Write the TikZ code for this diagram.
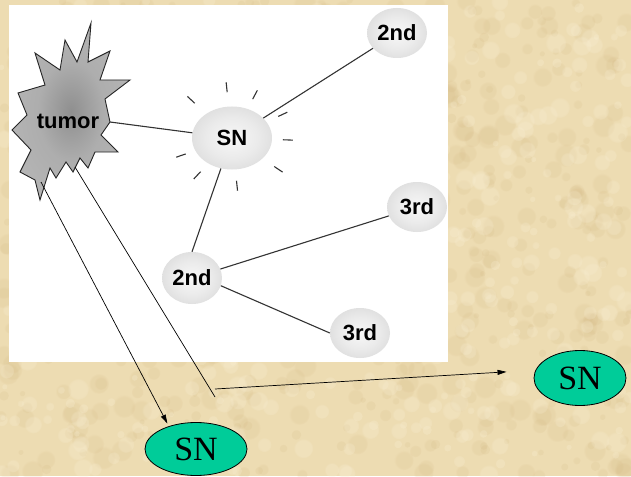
\documentclass[tikz,border=0pt]{standalone}
\usepackage{fontspec}
\setmainfont{Liberation Serif}
\newfontfamily\arialfont{Liberation Sans}
\usetikzlibrary{shapes.geometric,arrows.meta,fadings}

\definecolor{parchment}{RGB}{237,220,178}
\definecolor{parchdark}{RGB}{206,176,120}
\definecolor{parchlight}{RGB}{250,240,214}
\definecolor{snteal}{RGB}{0,204,153}
\definecolor{edgegray}{RGB}{51,51,51}

% soft gray bubbles and the tumor body
\pgfdeclareradialshading{bubble}{\pgfpoint{0bp}{0bp}}{color(0bp)=(white!97!black); color(16bp)=(white!92!black); color(50bp)=(white!77!black)}
\pgfdeclareradialshading{tumorshade}{\pgfpoint{0bp}{0bp}}{color(0bp)=(black!44); color(14bp)=(black!32); color(50bp)=(black!24)}

\tikzset{
  gnode/.style={ellipse, inner sep=0pt, shading=bubble, font=\arialfont\bfseries\fontsize{22}{26}\selectfont},
  snnode/.style={ellipse, draw=black, line width=0.8pt, fill=snteal, inner sep=0pt, font=\fontsize{34}{38}\selectfont},
  link/.style={draw=edgegray, line width=1.1pt},
  spread/.style={-{Triangle[length=9pt,width=5pt]}, line width=0.7pt},
  blot/.style={path fading=circle with fuzzy edge 20 percent}
}

\begin{document}
\begin{tikzpicture}[x=1pt,y=-1pt]
\useasboundingbox (0,0) rectangle (631,476);
\fill[parchment] (0,0) rectangle (631,476);
\pgfmathsetseed{11}
\foreach \i in {1,...,700}{
  \pgfmathsetmacro\bx{rnd*631}
  \pgfmathsetmacro\by{rnd*476}
  \pgfmathsetmacro\br{3+rnd*9}
  \fill[parchdark, opacity=0.13, blot] (\bx,\by) circle[radius=\br];
}
\foreach \i in {1,...,500}{
  \pgfmathsetmacro\bx{rnd*631}
  \pgfmathsetmacro\by{rnd*476}
  \pgfmathsetmacro\br{3+rnd*8}
  \fill[parchlight, opacity=0.25, blot] (\bx,\by) circle[radius=\br];
}
\fill[white] (9,5) rectangle (448,362);

% tumor
\path[draw=black!85, line width=0.9pt, shading=tumorshade]
  (91,23) -- (88,62) -- (110,51) -- (100,80) -- (130,80) -- (105,99)
  -- (110,122) -- (101,135) -- (118,152) -- (95,152) -- (88,168) -- (80,158)
  -- (73,172) -- (66,162) -- (56,178) -- (50,168) -- (40,200) -- (35,180)
  -- (20,172) -- (31,150) -- (12,130) -- (27,115) -- (18,93) -- (45,85)
  -- (35,53) -- (60,70) -- (65,40) -- (77,62) -- cycle;
\node[font=\arialfont\bfseries\fontsize{22}{26}\selectfont, inner sep=0pt] (tumor) at (68,121) {tumor};
\coordinate (tumorR) at (110,122);
\coordinate (tumorB) at (41,182);
\coordinate (tumorC) at (75,167);

% nodes
\node[gnode, minimum width=80pt, minimum height=63pt] (SN) at (232,138) {SN};
\node[gnode, minimum width=60pt, minimum height=50pt] (sec1) at (397,33) {2nd};
\node[gnode, minimum width=60pt, minimum height=52pt] (sec2) at (192,278) {2nd};
\node[gnode, minimum width=60pt, minimum height=50pt] (thr1) at (417,207) {3rd};
\node[gnode, minimum width=60pt, minimum height=50pt] (thr2) at (360,333) {3rd};

% rays round SN
\foreach \a/\r in {-96/51,-62/49,-25/56,2/56,34/56,84/48,133/51,161/54,223/56}{
  \pgfmathsetmacro\ra{\r-5}
  \pgfmathsetmacro\rb{\r+5}
  \draw[link] ([shift={(\a:\ra)}]SN.center) -- ([shift={(\a:\rb)}]SN.center);
}

\draw[link] (tumorR) -- (SN);
\draw[link] (SN) -- (sec1);
\draw[link] (SN.250) -- (sec2.north);
\draw[link] (sec2) -- (thr1);
\draw[link] (sec2.-15) -- (thr2.west);

% spread to the outer nodes
\node[snnode, minimum width=102pt, minimum height=53pt] (gsn1) at (196,449) {SN};
\node[snnode, minimum width=92pt, minimum height=55pt] (gsn2) at (580,378) {SN};
\coordinate (bend) at (215,397);
\coordinate (bendS) at (215,389);

\draw[spread, shorten >=3pt] (tumorB) -- (gsn1.140);
\draw[line width=0.7pt] (tumorC) -- (bend);
\draw[spread, shorten >=29pt] (bendS) -- (gsn2.170);
\end{tikzpicture}
\end{document}
